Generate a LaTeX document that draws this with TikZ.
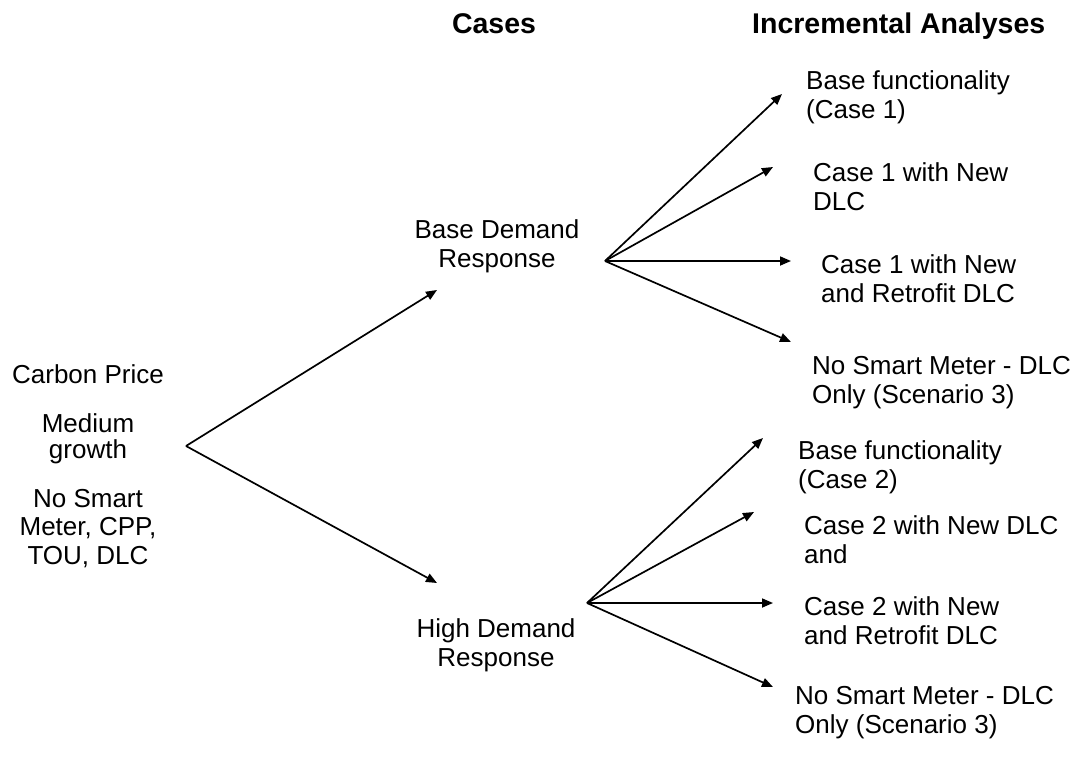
\documentclass[tikz,border=0pt]{standalone}
\usepackage{fontspec}
\setmainfont{Liberation Sans}
\usetikzlibrary{arrows.meta}
\begin{document}
\begin{tikzpicture}[x=1pt,y=-1pt,
  lbl/.style={inner sep=0pt, font=\fontsize{26}{29}\selectfont},
  lblL/.style={lbl, anchor=base west, align=left},
  lblC/.style={lbl, anchor=base, align=center},
  head/.style={inner sep=0pt, font=\fontsize{28.5}{33}\selectfont\bfseries},
  arr/.style={line width=1.7pt, -{Triangle[length=11pt,width=9pt]}}]
\useasboundingbox (0,0) rectangle (1088,758);

% headings
\node[head, anchor=base] (hcases) at (494,33) {Cases};
\node[head, anchor=base west] (hinc) at (752,33) {Incremental Analyses};

% left texts (anchor = baseline of last line)
\node[lblC] (carbon) at (88,383) {Carbon Price};
\node[lblC, font=\fontsize{26}{26}\selectfont] (growth) at (88,458) {Medium\\growth};
\node[lblC, font=\fontsize{26}{28.5}\selectfont] (nosmart) at (88,564) {No Smart\\Meter, CPP,\\TOU, DLC};

% cases
\node[lblC] (bdr) at (497,267) {Base Demand\\Response};
\node[lblC] (hdr) at (496,666) {High Demand\\Response};

% incremental analyses, upper
\node[lblL] (a1) at (806,118) {Base functionality\\(Case 1)};
\node[lblL] (a2) at (813,210) {Case 1 with New\\DLC};
\node[lblL] (a3) at (821,302) {Case 1 with New\\and Retrofit DLC};
\node[lblL] (a4) at (812,403) {No Smart Meter - DLC\\Only (Scenario 3)};

% incremental analyses, lower
\node[lblL] (b1) at (798,488) {Base functionality\\(Case 2)};
\node[lblL] (b2) at (804,563) {Case 2 with New DLC\\and};
\node[lblL] (b3) at (804,644) {Case 2 with New\\and Retrofit DLC};
\node[lblL] (b4) at (795,733) {No Smart Meter - DLC\\Only (Scenario 3)};

% connector points
\coordinate (root) at (186,446);
\coordinate (tbdr) at (437,290);
\coordinate (thdr) at (437,583);
\coordinate (hubA) at (605,261);
\coordinate (tA1) at (782,94);
\coordinate (tA2) at (773,167);
\coordinate (tA3) at (791,261);
\coordinate (tA4) at (791,342);
\coordinate (hubB) at (587,603);
\coordinate (tB1) at (763,438);
\coordinate (tB2) at (754,512);
\coordinate (tB3) at (773,603);
\coordinate (tB4) at (773,687);

\draw[arr] (root) -- (tbdr);
\draw[arr] (root) -- (thdr);
\foreach \t in {tA1,tA2,tA3,tA4} \draw[arr] (hubA) -- (\t);
\foreach \t in {tB1,tB2,tB3,tB4} \draw[arr] (hubB) -- (\t);
\end{tikzpicture}
\end{document}
